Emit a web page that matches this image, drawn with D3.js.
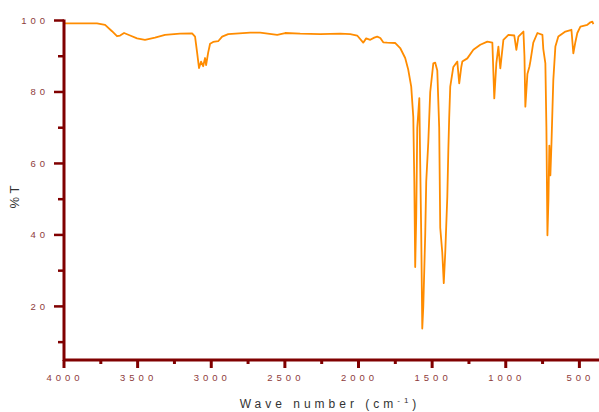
<!DOCTYPE html>
<html><head><meta charset="utf-8">
<script src="https://cdn.jsdelivr.net/npm/d3@7"></script>
<style>
body{margin:0;background:#fff;}
svg{display:block;}
text{font-family:"Liberation Sans",Arial,sans-serif;}
</style></head>
<body><svg id="c" width="599" height="412"></svg>
<script>
// Spectrum: wavenumber (cm-1) and transmittance (%T)
const wavenumbers = [4000,3776,3721,3674,3640,3619,3592,3551,3504,3450,3382,3314,3212,3130,3110,3096,3083,3069,3055,3042,3035,3021,3008,2987,2953,2926,2885,2736,2668,2552,2498,2396,2260,2124,2056,2009,1968,1948,1920,1893,1873,1852,1832,1805,1750,1717,1683,1662,1642,1628,1621,1615,1608,1601,1587,1581,1574,1567,1560,1547,1540,1526,1513,1492,1479,1465,1452,1445,1431,1421,1411,1397,1390,1384,1377,1356,1329,1316,1302,1295,1261,1220,1173,1125,1091,1078,1064,1050,1037,1016,982,942,928,914,880,873,867,853,840,833,813,785,751,745,731,724,717,710,704,697,690,683,677,663,643,595,554,541,527,514,493,446,425,412,405];
const transmittance = [99.2,99.2,98.8,97,95.6,95.8,96.5,95.8,95.0,94.6,95.2,96.0,96.3,96.4,95.5,91,86.7,88.5,87.2,89.5,87.5,91,93.5,94,94.2,95.5,96.2,96.6,96.6,96.0,96.5,96.3,96.2,96.3,96.2,95.8,93.8,95,94.6,95.2,95.5,95.1,93.9,93.8,93.7,92.3,89.5,86.2,81.5,73,55,31,45,70,78.3,60,40,13.8,20,40,55,66,80,88,88.2,86,70,42,35,26.5,35,50.6,63.7,73,81.5,87,88.5,82.4,87,88.5,89.4,91.8,93.2,94.1,93.8,78.2,88,92.7,86.6,94.6,96,95.8,91.8,95.5,96.9,90,75.9,85,87,88.5,93.8,96.5,96,92,88,70,39.9,50,65,56.7,65,75,83.4,92.7,95.5,96.9,97.4,90.8,94,96.5,98.3,98.8,99.5,99.7,99.0];
const xMajorTicks = [4000,3500,3000,2500,2000,1500,1000,500];
const xMinorTicks = [3750,3250,2750,2250,1750,1250,750];
const yMajorTicks = [20,40,60,80,100];
const yMinorTicks = [10,30,50,70,90];

const svg = d3.select("#c");
const x = d3.scaleLinear().domain([4000, 360]).range([64, 600]);
const y = d3.scaleLinear().domain([5, 100]).range([360, 20.5]);
const axisColor = "#800000";
const labelColor = "#8e3b3b";

// spectrum line
const data = wavenumbers.map((w,i)=>({w, t: transmittance[i]}));
svg.append("path").datum(data)
  .attr("fill","none").attr("stroke","#ff8c00").attr("stroke-width",1.8)
  .attr("stroke-linejoin","round")
  .attr("d", d3.line().x(d=>x(d.w)).y(d=>y(d.t)));

// Y axis
const yAxisG = svg.append("g").attr("transform","translate(64,0)");
yAxisG.append("line").attr("x1",0).attr("x2",0).attr("y1",y(100)-1).attr("y2",y(5)+1)
  .attr("stroke",axisColor).attr("stroke-width",3);
yAxisG.selectAll(".ymaj").data(yMajorTicks).join("line")
  .attr("x1",-10).attr("x2",0).attr("y1",d=>y(d)).attr("y2",d=>y(d))
  .attr("stroke",axisColor).attr("stroke-width",2.5);
yAxisG.selectAll(".ymin").data(yMinorTicks).join("line")
  .attr("x1",-6).attr("x2",0).attr("y1",d=>y(d)).attr("y2",d=>y(d))
  .attr("stroke",axisColor).attr("stroke-width",2.5);
yAxisG.selectAll(".ylab").data(yMajorTicks).join("text")
  .attr("x",-15).attr("y",d=>y(d)+3.5).attr("text-anchor","end")
  .attr("font-size",9.5).attr("letter-spacing","4px").attr("fill",labelColor)
  .text(d=>d);

// X axis
const xAxisG = svg.append("g").attr("transform","translate(0,360)");
xAxisG.append("line").attr("x1",63).attr("x2",600).attr("y1",0).attr("y2",0)
  .attr("stroke",axisColor).attr("stroke-width",3);
xAxisG.selectAll(".xmaj").data(xMajorTicks).join("line")
  .attr("x1",d=>x(d)).attr("x2",d=>x(d)).attr("y1",0).attr("y2",8)
  .attr("stroke",axisColor).attr("stroke-width",3);
xAxisG.selectAll(".xmin").data(xMinorTicks).join("line")
  .attr("x1",d=>x(d)).attr("x2",d=>x(d)).attr("y1",0).attr("y2",4)
  .attr("stroke",axisColor).attr("stroke-width",3);
xAxisG.selectAll(".xlab").data(xMajorTicks).join("text")
  .attr("x",d=>x(d)+1).attr("y",21).attr("text-anchor","middle")
  .attr("font-size",9.5).attr("letter-spacing","4px").attr("fill",labelColor)
  .text(d=>d);

// Axis titles
const xt = svg.append("text").attr("x",330).attr("y",408).attr("text-anchor","middle")
  .attr("font-size",12).attr("letter-spacing","4px").attr("fill","#333");
xt.append("tspan").text("Wave number (cm");
xt.append("tspan").attr("font-size",8).attr("dy",-5).text("-1");
xt.append("tspan").attr("dy",5).text(")");

svg.append("text").attr("transform","translate(19,197) rotate(-90)")
  .attr("text-anchor","middle").attr("font-size",13).attr("fill","#333")
  .text("% T");
</script></body></html>
